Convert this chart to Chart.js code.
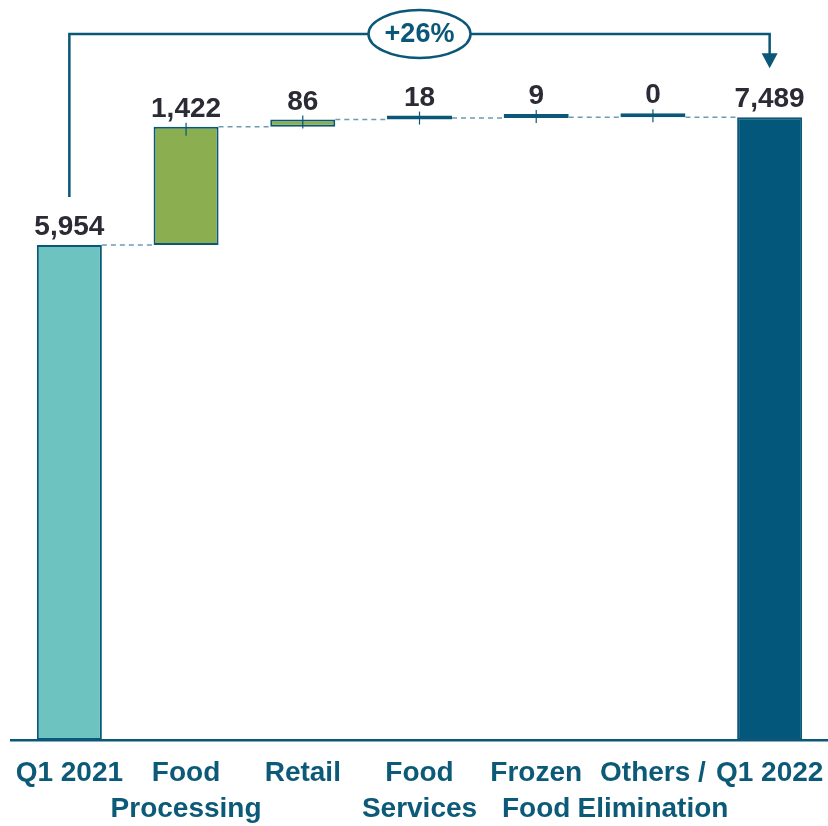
<!DOCTYPE html>
<html lang="en">
<head>
<meta charset="UTF-8">
<title>Waterfall Q1 2021 to Q1 2022</title>
<script src="https://cdn.jsdelivr.net/npm/chart.js"></script>
<style>
  html, body { margin: 0; padding: 0; background: #fff; }
  #wrap { width: 828px; height: 826px; }
</style>
</head>
<body>
<div id="wrap"><canvas id="myChart"></canvas></div>
<script>
// data
const categories = [['Q1 2021'], ['Food', 'Processing'], ['Retail'], ['Food', 'Services'], ['Frozen', 'Food'], ['Others /', 'Elimination'], ['Q1 2022']];
const values = [5954, 1422, 86, 18, 9, 0, 7489];
const valueLabels = ['5,954', '1,422', '86', '18', '9', '0', '7,489'];
const isTotal = [true, false, false, false, false, false, true];

const DARK = '#0a5778';
const FONT = "'Liberation Sans', Arial, sans-serif";

// running totals -> floating bars
let running = 0;
const ranges = values.map((v, i) => {
  if (isTotal[i]) { running = v; return [0, v]; }
  const r = [running, running + v];
  running += v;
  return r;
});

const barColors = values.map((v, i) => {
  if (isTotal[i]) return i === 0 ? '#6cc3c0' : '#03577a';
  return '#8aae50';
});

const growth = Math.round((values[values.length - 1] / values[0] - 1) * 100);

const waterfallExtras = {
  id: 'waterfallExtras',
  afterDatasetsDraw(chart) {
    const ctx = chart.ctx;
    const bars = chart.getDatasetMeta(0).data;
    const tops = bars.map(b => Math.min(b.y, b.base));

    ctx.save();
    // dashed connectors
    ctx.strokeStyle = '#6f9bb2';
    ctx.lineWidth = 1.5;
    ctx.setLineDash([5, 4]);
    for (let i = 0; i < bars.length - 1; i++) {
      const level = chart.scales.y.getPixelForValue(ranges[i][1]);
      ctx.beginPath();
      ctx.moveTo(bars[i].x + bars[i].width / 2, level);
      ctx.lineTo(bars[i + 1].x - bars[i + 1].width / 2, level);
      ctx.stroke();
    }
    ctx.setLineDash([]);

    // little leader ticks on the increments
    ctx.strokeStyle = DARK;
    ctx.lineWidth = 1.2;
    bars.forEach((b, i) => {
      if (isTotal[i]) return;
      ctx.beginPath();
      ctx.moveTo(b.x, tops[i] - 4);
      ctx.lineTo(b.x, tops[i] + 9);
      ctx.stroke();
    });

    // value labels
    ctx.fillStyle = '#2b2b35';
    ctx.font = 'bold 28px ' + FONT;
    ctx.textAlign = 'center';
    ctx.textBaseline = 'alphabetic';
    bars.forEach((b, i) => {
      ctx.fillText(valueLabels[i], b.x, tops[i] - 10);
    });

    // growth bracket
    const first = bars[0], last = bars[bars.length - 1];
    const yLine = chart.chartArea.top + 24;
    ctx.strokeStyle = DARK;
    ctx.fillStyle = DARK;
    ctx.lineWidth = 2.5;
    ctx.beginPath();
    ctx.moveTo(first.x, tops[0] - 48);
    ctx.lineTo(first.x, yLine);
    ctx.lineTo(last.x, yLine);
    ctx.lineTo(last.x, tops[bars.length - 1] - 62);
    ctx.stroke();
    const tip = tops[bars.length - 1] - 49;
    ctx.beginPath();
    ctx.moveTo(last.x - 8, tip - 15);
    ctx.lineTo(last.x + 8, tip - 15);
    ctx.lineTo(last.x, tip);
    ctx.closePath();
    ctx.fill();

    const cx = (first.x + last.x) / 2;
    ctx.beginPath();
    ctx.ellipse(cx, yLine, 51, 24, 0, 0, Math.PI * 2);
    ctx.fillStyle = '#fff';
    ctx.fill();
    ctx.stroke();
    ctx.fillStyle = DARK;
    ctx.font = 'bold 27px ' + FONT;
    ctx.textBaseline = 'middle';
    ctx.fillText('+' + growth + '%', cx, yLine + 1);
    ctx.restore();
  }
};

new Chart(document.getElementById('myChart'), {
  type: 'bar',
  data: {
    labels: categories,
    datasets: [{
      data: ranges,
      backgroundColor: barColors,
      borderColor: DARK,
      borderWidth: 2,
      borderSkipped: false,
      minBarLength: 4,
      barPercentage: 0.557,
      categoryPercentage: 1
    }]
  },
  options: {
    responsive: true,
    maintainAspectRatio: false,
    animation: false,
    layout: { padding: { left: 11, right: 0, top: 10, bottom: 0 } },
    plugins: {
      legend: { display: false },
      tooltip: { enabled: false }
    },
    scales: {
      x: {
        grid: { display: false, drawTicks: false },
        border: { display: true, color: DARK, width: 2.5 },
        ticks: {
          color: '#0d5a78',
          font: { family: FONT, size: 28, weight: 'bold', lineHeight: 1.3 },
          padding: 15,
          maxRotation: 0,
          minRotation: 0,
          autoSkip: false
        },
        afterFit(scale) {
          scale.height = 86;
          scale.paddingLeft = 0;
          scale.paddingRight = 0;
        }
      },
      y: {
        display: false,
        min: 0,
        max: 8780
      }
    }
  },
  plugins: [waterfallExtras]
});
</script>
</body>
</html>
